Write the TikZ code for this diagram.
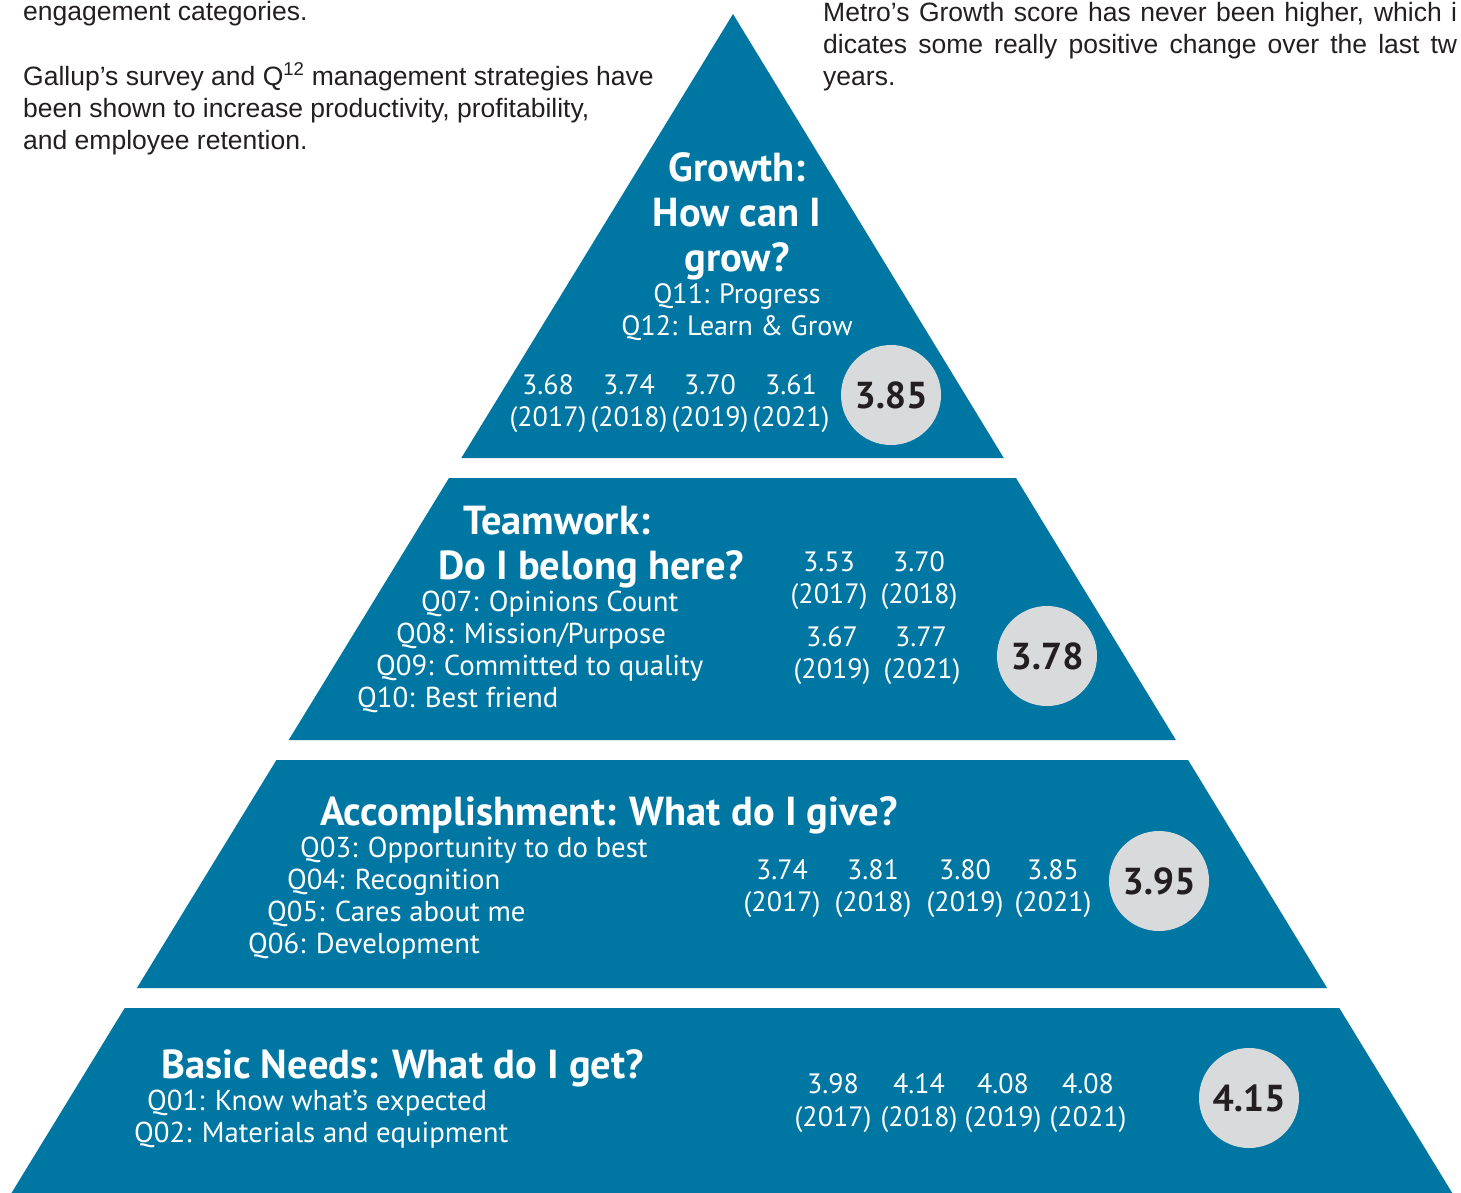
\documentclass[tikz,border=0pt]{standalone}
\usepackage{fontspec}
\setmainfont{Liberation Sans}
\newfontfamily\pyr{PT Sans}
\definecolor{pblue}{HTML}{0077A3}
\definecolor{cgray}{HTML}{D9DADB}
\definecolor{ctext}{HTML}{231F20}
\definecolor{btext}{HTML}{231F20}
\begin{document}
\begin{tikzpicture}[x=1pt,y=-1pt,
  body/.style={inner sep=0pt,anchor=base west,text=btext,font=\fontsize{26.5}{30}\selectfont},
  ttl/.style={inner sep=0pt,text=white,font=\pyr\bfseries\fontsize{40.5}{46}\selectfont},
  item/.style={inner sep=0pt,anchor=base west,text=white,font=\pyr\fontsize{28.8}{32}\selectfont},
  num/.style={inner sep=0pt,anchor=base,text=white,font=\pyr\fontsize{28}{32}\selectfont},
  circ/.style={circle,fill=cgray,minimum size=100pt,inner sep=0pt,text=ctext,font=\pyr\bfseries\fontsize{37.5}{42}\selectfont},
  tier/.style={fill=pblue,draw=none}]
\useasboundingbox (0,0) rectangle (1461,1192);
\fill[white] (0,0) rectangle (1461,1192);
\begin{scope}
\clip (0,0) rectangle (1461,1192);
% pyramid tiers
\fill[tier] (733,14) -- (1003.8,458) -- (461.3,458) -- cycle;
\fill[tier] (449.0,478) -- (1016.0,478) -- (1175.9,740) -- (288.7,740) -- cycle;
\fill[tier] (276.4,760) -- (1188.1,760) -- (1327.1,988) -- (136.9,988) -- cycle;
\fill[tier] (124.7,1008) -- (1339.3,1008) -- (1456.5,1200) -- (7.2,1200) -- cycle;
% top text
\node[body] (tl0) at (23,20) {engagement categories.};
\node[body] (tl1) at (23,85) {Gallup’s survey and Q\textsuperscript{12} management strategies have};
\node[body] (tl2) at (23,117) {been shown to increase productivity, profitability,};
\node[body] (tl3) at (23,149) {and employee retention.};
\node[body] (tr1) at (823,21) {\makebox[634pt][s]{Metro’s Growth score has never been higher, which i}};
\node[body] (tr2) at (823,53) {\makebox[634pt][s]{dicates some really positive change over the last tw}};
\node[body] (tr3) at (823,85) {years.};
\end{scope}
% Growth
\node[ttl,anchor=base] (g1) at (737,181) {Growth:};
\node[ttl,anchor=base] (g2) at (737,226) {How can I};
\node[ttl,anchor=base] (g3) at (737,271) {grow?};
\node[num] (g4) at (737,303) {Q11: Progress};
\node[num] (g5) at (737,335) {Q12: Learn \& Grow};
\node[num] (gn1) at (548,394) {3.68};
\node[num] (gn2) at (629,394) {3.74};
\node[num] (gn3) at (710,394) {3.70};
\node[num] (gn4) at (791,394) {3.61};
\node[num] (gy1) at (548,426) {(2017)};
\node[num] (gy2) at (629,426) {(2018)};
\node[num] (gy3) at (710,426) {(2019)};
\node[num] (gy4) at (791,426) {(2021)};
\node[circ] (gc) at (891,395) {3.85};
% Teamwork
\node[ttl,anchor=base west] (t1) at (463,534) {Teamwork:};
\node[ttl,anchor=base west] (t2) at (438,579) {Do I belong here?};
\node[item] (t3) at (421,611) {Q07: Opinions Count};
\node[item] (t4) at (396,643) {Q08: Mission/Purpose};
\node[item] (t5) at (376,675) {Q09: Committed to quality};
\node[item] (t6) at (357,707) {Q10: Best friend};
\node[num] (tn1) at (829,571) {3.53};
\node[num] (tn2) at (919,571) {3.70};
\node[num] (ty1) at (829,603) {(2017)};
\node[num] (ty2) at (919,603) {(2018)};
\node[num] (tn3) at (832,646) {3.67};
\node[num] (tn4) at (921,646) {3.77};
\node[num] (ty3) at (832,678) {(2019)};
\node[num] (ty4) at (922,678) {(2021)};
\node[circ] (tc) at (1047,656) {3.78};
% Accomplishment
\node[ttl,anchor=base west] (a1) at (320,825) {Accomplishment: What do I give?};
\node[item] (a2) at (300,857) {Q03: Opportunity to do best};
\node[item] (a3) at (287,889) {Q04: Recognition};
\node[item] (a4) at (267,921) {Q05: Cares about me};
\node[item] (a5) at (248,953) {Q06: Development};
\node[num] (an1) at (782,879) {3.74};
\node[num] (an2) at (873,879) {3.81};
\node[num] (an3) at (965,879) {3.80};
\node[num] (an4) at (1053,879) {3.85};
\node[num] (ay1) at (782,911) {(2017)};
\node[num] (ay2) at (873,911) {(2018)};
\node[num] (ay3) at (965,911) {(2019)};
\node[num] (ay4) at (1053,911) {(2021)};
\node[circ] (ac) at (1159,881) {3.95};
% Basic needs
\node[ttl,anchor=base west] (b1) at (161,1078) {Basic Needs: What do I get?};
\node[item] (b2) at (147,1110) {Q01: Know what’s expected};
\node[item] (b3) at (134,1142) {Q02: Materials and equipment};
\node[num] (bn1) at (833,1093) {3.98};
\node[num] (bn2) at (919,1093) {4.14};
\node[num] (bn3) at (1003,1093) {4.08};
\node[num] (bn4) at (1088,1093) {4.08};
\node[num] (by1) at (833,1126) {(2017)};
\node[num] (by2) at (919,1126) {(2018)};
\node[num] (by3) at (1003,1126) {(2019)};
\node[num] (by4) at (1088,1126) {(2021)};
\node[circ] (bc) at (1249,1098) {4.15};
\end{tikzpicture}
\end{document}
